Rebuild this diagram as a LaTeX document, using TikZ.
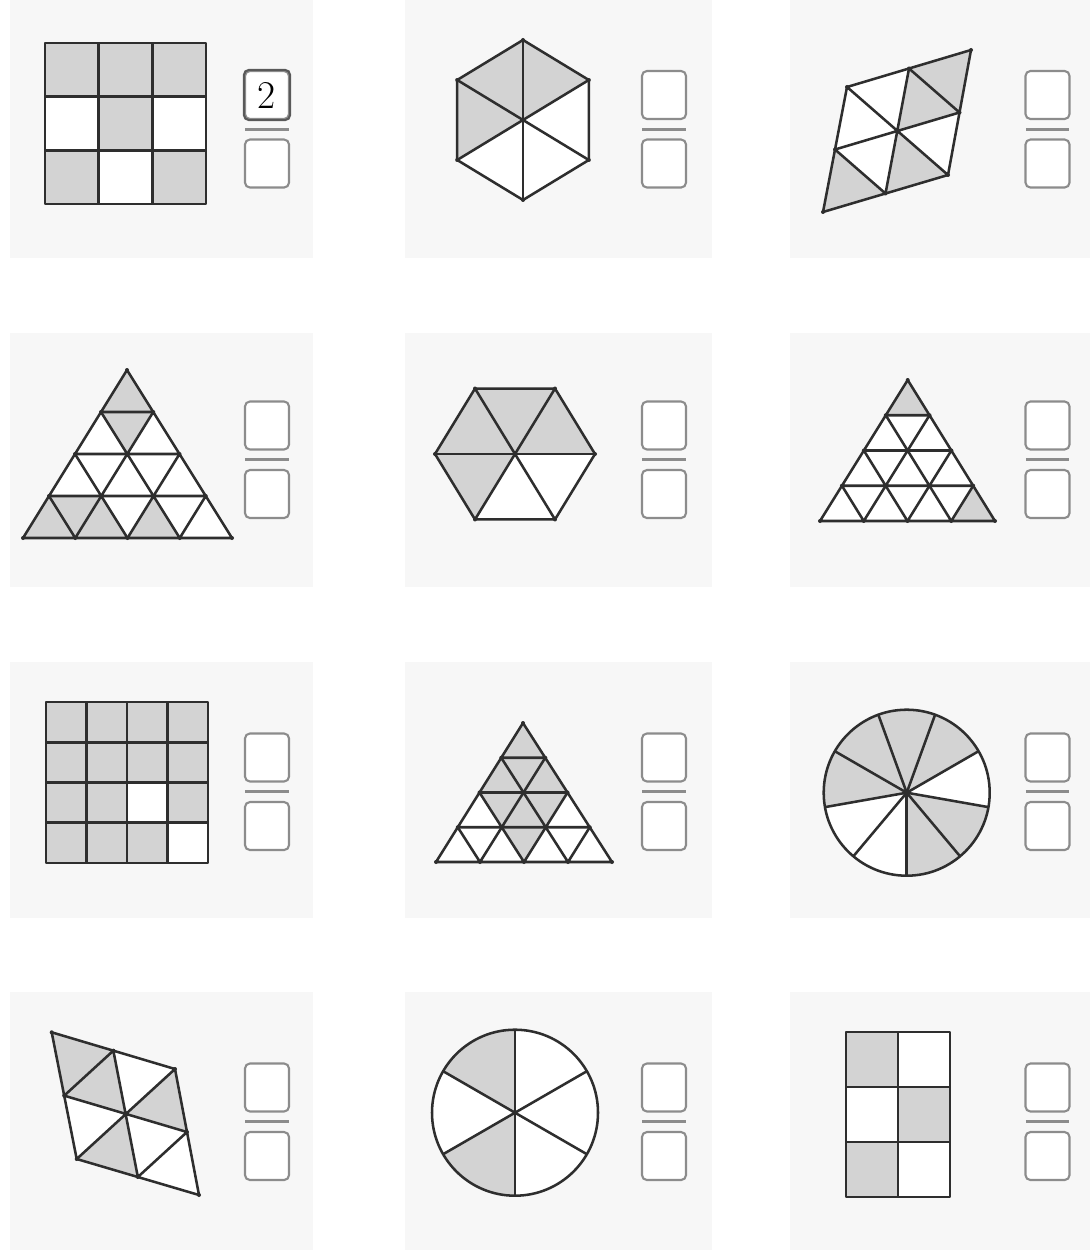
\documentclass[tikz,border=0pt]{standalone}
\usepackage{tikz}
\usetikzlibrary{calc,positioning}
\definecolor{panelbg}{HTML}{F7F7F7}
\definecolor{shadegray}{HTML}{D3D3D3}
\definecolor{linegray}{HTML}{2E2E2E}
\definecolor{boxgray}{HTML}{8C8C8C}
% point (i,j) of a triangle split into 4 rows, apex P, base L--R
\newcommand{\tp}[2]{(barycentric cs:P={4-(#1)},L={(#1)-(#2)},R={#2})}

\begin{document}
\begin{tikzpicture}[x=0.025cm, y=-0.025cm,
	shapeline/.style={draw=linegray, line width=1.8pt, line join=round},
	shaded/.style={fill=shadegray},
	dot/.style={fill=linegray},
	fracbox/.style={draw=boxgray, line width=1.5pt, rounded corners=3.5pt,
		minimum width=1.1cm, minimum height=1.2cm, inner sep=0pt},
	fracbar/.style={draw=boxgray, line width=2.3pt, shorten <=1pt, shorten >=1pt}]

	\fill[white] (0,0) rectangle (1090,1254);
	\useasboundingbox (0,0) rectangle (1090,1254);

	% panels
	\foreach \x/\w in {10/303, 405/307, 790/300}{
		\foreach \y/\h in {0/258, 333/254, 662/256, 992/258}{
			\fill[panelbg] (\x,\y) rectangle ++(\w,\h);
		}
	}

	% fraction boxes
	\foreach \n/\x/\y in {1/267/95, 2/664/95, 3/1047.5/95,
		4/267/425.5, 5/664/425.5, 6/1047.5/425.5,
		7/267/757.5, 8/664/757.5, 9/1047.5/757.5,
		10/267/1087.5, 11/664/1087.5, 12/1047.5/1087.5}{
		\node[fracbox, fill=white] (num\n) at (\x,\y) {};
		\node[fracbox, fill=white, below=0.46cm of num\n] (den\n) {};
		\draw[fracbar] ($(num\n.south west)!.5!(den\n.north west)$) -- ($(num\n.south east)!.5!(den\n.north east)$);
	}
	\draw[draw=black!65, line width=1.5pt, rounded corners=3.5pt] (num1.south west) rectangle (num1.north east);
	\node[font=\fontsize{28}{28}\selectfont, inner sep=0pt] (numtwo) at (num1.center) {2};

	% 3x3 square
	\fill[white] (45,43) rectangle (206,204);
	\foreach \i/\j in {0/0,1/0,2/0,1/1,0/2,2/2}
		\fill[shaded] ({45+53.67*\i},{43+53.67*\j}) rectangle ++(53.67,53.67);
	\foreach \k in {1,2}{
		\draw[shapeline] ({45+53.67*\k},43) -- ++(0,161);
		\draw[shapeline] (45,{43+53.67*\k}) -- ++(161,0);
	}
	\draw[shapeline] (45,43) rectangle (206,204);

	% hexagon, pointy top
	\begin{scope}[shift={(523,120)}]
		\fill[white] (30:76 and 80) \foreach \a in {90,150,...,330}{ -- (\a:76 and 80)} -- cycle;
		\foreach \a in {150,210,270}
			\fill[shaded] (0,0) -- (\a:76 and 80) -- (\a+60:76 and 80) -- cycle;
		\foreach \a in {30,90,...,330}{
			\draw[shapeline] (0,0) -- (\a:76 and 80);
			\fill[dot] (\a:76 and 80) circle[radius=2];
		}
		\draw[shapeline] (30:76 and 80) \foreach \a in {90,150,...,330}{ -- (\a:76 and 80)} -- cycle;
		\fill[dot] (0,0) circle[radius=2.5];
	\end{scope}

	% rhombus, top right
	\coordinate (A) at (847,87);
	\coordinate (B) at (971,50);
	\coordinate (C) at (948,175);
	\coordinate (D) at (823,212);
	\coordinate (Tm) at ($(A)!.5!(B)$);
	\coordinate (Rm) at ($(B)!.5!(C)$);
	\coordinate (Bm) at ($(C)!.5!(D)$);
	\coordinate (Lm) at ($(D)!.5!(A)$);
	\coordinate (O) at ($(A)!.5!(C)$);
	\fill[white] (A) -- (B) -- (C) -- (D) -- cycle;
	\fill[shaded] (Tm) -- (B) -- (Rm) -- (O) -- cycle;
	\fill[shaded] (Lm) -- (Bm) -- (D) -- cycle;
	\fill[shaded] (O) -- (C) -- (Bm) -- cycle;
	\draw[shapeline] (A) -- (B) -- (C) -- (D) -- cycle
		(Tm) -- (Bm) (Lm) -- (Rm) (A) -- (C) (Tm) -- (Rm) (Lm) -- (Bm);
	\foreach \p in {A,B,C,D,Tm,Rm,Bm,Lm,O}
		\fill[dot] (\p) circle[radius=2];

	% triangle, 16 parts
	\coordinate (P) at (127,370);
	\coordinate (L) at (23,538);
	\coordinate (R) at (232,538);
	\fill[white] (P) -- (L) -- (R) -- cycle;
	\foreach \r/\k in {1/0,4/0,4/1,4/2}
		\fill[shaded] \tp{\r-1}{\k} -- \tp{\r}{\k} -- \tp{\r}{\k+1} -- cycle;
	\foreach \r/\k in {2/0,4/0}
		\fill[shaded] \tp{\r-1}{\k} -- \tp{\r-1}{\k+1} -- \tp{\r}{\k+1} -- cycle;
	\foreach \r in {1,...,4}
		\foreach \k in {1,...,\r}
			\draw[shapeline] \tp{\r-1}{\k-1} -- \tp{\r}{\k-1} -- \tp{\r}{\k} -- cycle;
	\foreach \r in {0,...,4}
		\foreach \k in {0,...,\r}
			\fill[dot] \tp{\r}{\k} circle[radius=2];

	% hexagon, flat top
	\begin{scope}[shift={(515,454)}]
		\fill[white] (0:80 and 75.6) \foreach \a in {60,120,...,300}{ -- (\a:80 and 75.6)} -- cycle;
		\foreach \a in {120,180,240,300}
			\fill[shaded] (0,0) -- (\a:80 and 75.6) -- (\a+60:80 and 75.6) -- cycle;
		\foreach \a in {0,60,...,300}{
			\draw[shapeline] (0,0) -- (\a:80 and 75.6);
			\fill[dot] (\a:80 and 75.6) circle[radius=2];
		}
		\draw[shapeline] (0:80 and 75.6) \foreach \a in {60,120,...,300}{ -- (\a:80 and 75.6)} -- cycle;
		\fill[dot] (0,0) circle[radius=2.5];
	\end{scope}

	% small triangle, 16 parts
	\coordinate (P) at (907.7,380);
	\coordinate (L) at (820,521);
	\coordinate (R) at (995,521);
	\fill[white] (P) -- (L) -- (R) -- cycle;
	\foreach \r/\k in {1/0,4/3}
		\fill[shaded] \tp{\r-1}{\k} -- \tp{\r}{\k} -- \tp{\r}{\k+1} -- cycle;
	\foreach \r in {1,...,4}
		\foreach \k in {1,...,\r}
			\draw[shapeline] \tp{\r-1}{\k-1} -- \tp{\r}{\k-1} -- \tp{\r}{\k} -- cycle;
	\foreach \r in {0,...,4}
		\foreach \k in {0,...,\r}
			\fill[dot] \tp{\r}{\k} circle[radius=2];

	% 4x4 square
	\fill[shaded] (46,702) rectangle (208,863);
	\foreach \i/\j in {2/2,3/3}
		\fill[white] ({46+40.5*\i},{702+40.25*\j}) rectangle ++(40.5,40.25);
	\foreach \k in {1,2,3}{
		\draw[shapeline] ({46+40.5*\k},702) -- ++(0,161);
		\draw[shapeline] (46,{702+40.25*\k}) -- ++(162,0);
	}
	\draw[shapeline] (46,702) rectangle (208,863);

	% triangle, middle shaded
	\coordinate (P) at (523,723);
	\coordinate (L) at (436,862);
	\coordinate (R) at (612,862);
	\fill[white] (P) -- (L) -- (R) -- cycle;
	\foreach \r/\k in {1/0,2/0,2/1,3/1}
		\fill[shaded] \tp{\r-1}{\k} -- \tp{\r}{\k} -- \tp{\r}{\k+1} -- cycle;
	\foreach \r/\k in {2/0,3/0,3/1,4/1}
		\fill[shaded] \tp{\r-1}{\k} -- \tp{\r-1}{\k+1} -- \tp{\r}{\k+1} -- cycle;
	\foreach \r in {1,...,4}
		\foreach \k in {1,...,\r}
			\draw[shapeline] \tp{\r-1}{\k-1} -- \tp{\r}{\k-1} -- \tp{\r}{\k} -- cycle;
	\foreach \r in {0,...,4}
		\foreach \k in {0,...,\r}
			\fill[dot] \tp{\r}{\k} circle[radius=2];

	% circle, 9 sectors
	\begin{scope}[shift={(906.7,792.7)}]
		\fill[white] (0,0) circle[radius=83];
		\foreach \a in {10,50,170,210,250,290}
			\fill[shaded] (0,0) -- (\a:83) arc[start angle=\a, end angle=\a+40, radius=83] -- cycle;
		\foreach \a in {10,50,...,330}
			\draw[shapeline] (0,0) -- (\a:83);
		\draw[shapeline] (0,0) circle[radius=83];
		\fill[dot] (0,0) circle[radius=3.5];
	\end{scope}

	% rhombus, bottom left
	\coordinate (A) at (51.7,1032.3);
	\coordinate (B) at (175,1069);
	\coordinate (C) at (199,1195);
	\coordinate (D) at (76.7,1159);
	\coordinate (Tm) at ($(A)!.5!(B)$);
	\coordinate (Rm) at ($(B)!.5!(C)$);
	\coordinate (Bm) at ($(C)!.5!(D)$);
	\coordinate (Lm) at ($(D)!.5!(A)$);
	\coordinate (O) at ($(A)!.5!(C)$);
	\fill[white] (A) -- (B) -- (C) -- (D) -- cycle;
	\fill[shaded] (A) -- (Tm) -- (O) -- (Lm) -- cycle;
	\fill[shaded] (B) -- (Rm) -- (O) -- cycle;
	\fill[shaded] (O) -- (Bm) -- (D) -- cycle;
	\draw[shapeline] (A) -- (B) -- (C) -- (D) -- cycle
		(Tm) -- (Bm) (Lm) -- (Rm) (D) -- (B) (Lm) -- (Tm) (Bm) -- (Rm);
	\foreach \p in {A,B,C,D,Tm,Rm,Bm,Lm,O}
		\fill[dot] (\p) circle[radius=2];

	% circle, 6 sectors
	\begin{scope}[shift={(515,1112.7)}]
		\fill[white] (0,0) circle[radius=83];
		\foreach \a in {90,210}
			\fill[shaded] (0,0) -- (\a:83) arc[start angle=\a, end angle=\a+60, radius=83] -- cycle;
		\foreach \a in {30,90,...,330}
			\draw[shapeline] (0,0) -- (\a:83);
		\draw[shapeline] (0,0) circle[radius=83];
		\fill[dot] (0,0) circle[radius=2.5];
	\end{scope}

	% 2x3 rectangle
	\fill[white] (846,1032) rectangle (950,1197);
	\foreach \i/\j in {0/0,1/1,0/2}
		\fill[shaded] ({846+52*\i},{1032+55*\j}) rectangle ++(52,55);
	\draw[shapeline] (898,1032) -- (898,1197);
	\foreach \k in {1,2}
		\draw[shapeline] (846,{1032+55*\k}) -- ++(104,0);
	\draw[shapeline] (846,1032) rectangle (950,1197);

\end{tikzpicture}
\end{document}
